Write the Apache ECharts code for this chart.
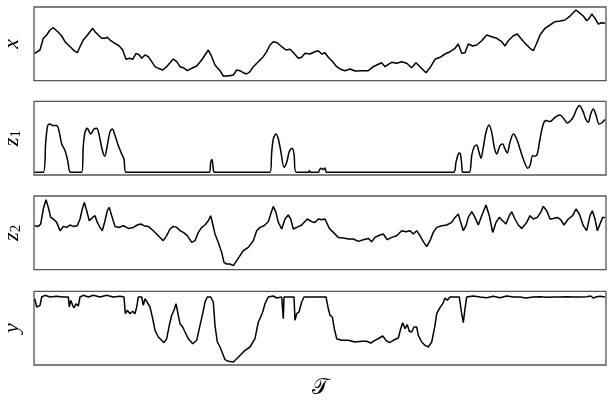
<!DOCTYPE html>
<html>
<head>
<meta charset="utf-8">
<script src="https://cdn.jsdelivr.net/npm/echarts@6/dist/echarts.min.js"></script>
<style>
  html, body { margin: 0; padding: 0; background: #fff; }
  #chart { width: 613px; height: 401px; }
</style>
</head>
<body>
<div id="chart"></div>
<script>
// 每条曲线都是 [t, 值]，t 为时间位置，值为面板内的高度
var xSeries = [
  [0.7, 27.4], [2.7, 26.7], [6, 30.7], [9.3, 42.4], [12.7, 45.7], [16, 50.7], [19.3, 53], [21, 52.4],
  [24.3, 48.4], [27.7, 44.7], [31, 39], [34.3, 35.7], [37.7, 32.4], [40, 30], [43.3, 28], [46, 34],
  [49.3, 40.7], [52.7, 44.7], [56, 49], [58.7, 52.4], [61, 49], [64.3, 45.7], [67.7, 42.4], [71, 42.4],
  [73.3, 43.4], [76.7, 40], [81, 37.4], [85.3, 34.7], [88.7, 30.7], [92, 21.4], [95.3, 22.4], [98.7, 21.4],
  [102, 27.4], [105.3, 25.7], [107.7, 22.4], [111, 25.7], [114.3, 24], [117.7, 19], [121, 14], [124.3, 12.4],
  [128.7, 10.7], [132.7, 14], [136, 18], [139.3, 21.7], [142.7, 19], [146, 14], [149.3, 13], [153.3, 10],
  [157.7, 12.4], [162.7, 14.7], [167.7, 20.7], [171, 25.7], [174.3, 30.7], [177.7, 24], [181, 15.7], [186, 10],
  [189.3, 4.7], [194.3, 4.7], [199.3, 5.7], [202.7, 10.7], [206, 10], [209.3, 8], [212.7, 6.7], [216, 9],
  [219.3, 14], [224.3, 19], [229.3, 24], [232.7, 29], [236, 35.7], [239.3, 39], [243.3, 38], [247.7, 34],
  [252, 30.7], [256, 31.4], [260, 27.4], [264.3, 22.4], [267.7, 23.4], [271, 27.4], [276, 26.7], [281, 29],
  [284.3, 30], [287.7, 26.7], [291, 28], [294.3, 23.4], [298.7, 19], [302.7, 14], [306.7, 11.4], [311, 10],
  [316, 11.7], [321, 9.7], [327.7, 10], [334.3, 10], [339.3, 14], [344.3, 16.4], [347.7, 18], [351, 14],
  [354.3, 16.4], [357.7, 18.4], [362.7, 17.4], [367.7, 19], [372.7, 17.4], [377.7, 13], [382, 18], [386, 14],
  [392, 8], [396.7, 14], [401, 21.4], [406, 23.4], [411, 26.7], [416, 29], [421, 32.4], [424.3, 36.7],
  [427.7, 27.4], [431, 28], [434.3, 36.7], [438.7, 34.7], [442.7, 35.7], [447.7, 40], [452.7, 45.7], [457.7, 44],
  [462.7, 42.4], [467.7, 39], [471, 34.7], [474.3, 40], [479.3, 45], [483.3, 46.7], [486.7, 42.4], [491, 37.4],
  [496, 32.4], [499.3, 30], [502.7, 37.4], [506, 45.7], [511, 52.4], [516, 55.7], [521, 59], [526, 59.7],
  [531, 60.7], [535.3, 64], [538.7, 67.4], [542, 70.7], [546, 67.4], [549.3, 64.7], [552.7, 60], [555.3, 62.4],
  [557.7, 66.7], [561, 62.4], [564.3, 56.7], [567.7, 58], [571, 57.4]
];

var z1Series = [
  [0.7, 2.7], [9.3, 2.7], [11.7, 32.7], [13.7, 49.4], [16, 51], [18.7, 49.4], [22.7, 49.4], [25.3, 42.7],
  [27.7, 31], [31, 24.4], [33.7, 14.4], [36.7, 2.7], [47.7, 2.7], [49.3, 29.4], [51, 42.7], [53.3, 46.7],
  [56.7, 41], [60, 46], [62.7, 46.7], [65.3, 39.4], [68, 26], [70.7, 18.7], [73.3, 29.4], [76, 43.4],
  [78.3, 46], [81, 39.4], [84.3, 29.4], [87.7, 21], [90, 16], [92, 2.7], [175.3, 2.7], [176.7, 12.7],
  [178, 15.4], [179.3, 6], [180, 2.7], [236, 2.7], [237.7, 22.7], [239.3, 36], [242, 41], [244.3, 36],
  [247, 22.7], [250, 7.7], [252.7, 12.7], [255.3, 23.4], [258, 26.7], [260, 21], [262, 2.7], [274.3, 2.7],
  [275.3, 4.2], [276.7, 2.7], [284.3, 2.7], [286, 6], [287.7, 6.7], [289.3, 5.4], [291, 7], [292.7, 2.7],
  [419.3, 2.7], [422, 12.7], [424.3, 21], [426, 22], [427.7, 11], [428.7, 2.7], [435.3, 2.7], [437.7, 19.4],
  [440, 27.7], [442.7, 30], [445, 22.7], [447, 16.7], [449.3, 27.7], [452, 42.7], [455, 50], [457.7, 42.7],
  [460.3, 27.7], [462.7, 21], [466, 29.4], [468.7, 31], [471, 26], [473.3, 22], [476, 32.7], [479.3, 41],
  [482.7, 36], [486, 26], [489.3, 16], [493.7, 6.7], [496, 9.4], [498.7, 19.4], [501, 18.7], [503.3, 21],
  [506, 36], [509.3, 51], [512, 54.4], [516, 53.4], [521, 57.7], [526, 60], [530, 56], [533.3, 52],
  [536.7, 54.4], [540, 59.4], [542.7, 66], [545.3, 69.4], [548.7, 64.4], [552, 55.4], [554.3, 52.7], [556.7, 61],
  [559.3, 66], [562, 60], [565, 51], [567.7, 52], [571, 55.4]
];

var z2Series = [
  [0.7, 44], [4.3, 43.3], [6.7, 45.7], [9.3, 60.7], [12, 70], [14.3, 62.3], [16.7, 52.3], [19.3, 50.7],
  [22.7, 47.3], [26, 39], [29.3, 43.3], [32.7, 42.3], [36, 44.7], [39.3, 43.3], [43.3, 44], [46, 50.7],
  [48.3, 60.7], [50.3, 67.3], [52.7, 59], [55.3, 49], [58.7, 52.3], [61, 54], [63.3, 47.3], [66, 42.3],
  [68.3, 39], [71, 49], [73.3, 59], [75.3, 62.3], [77.7, 54], [81, 43.3], [85.3, 42.3], [89.3, 44],
  [94.3, 41.3], [99.3, 42.3], [103.3, 44.7], [106.7, 45.7], [110, 44], [114.3, 43.3], [119.3, 39], [124.3, 34],
  [129.3, 29], [132.7, 34], [136, 40.7], [139.3, 43.3], [142.7, 42.3], [146, 39], [149.3, 37.3], [153.3, 34],
  [157.7, 27.3], [161, 29], [164.3, 37.3], [167.7, 42.3], [171, 44.7], [174.3, 49], [176.7, 54], [178.7, 45.7],
  [181, 35.7], [184.3, 27.3], [187.7, 17.3], [190, 7.3], [192.7, 5.7], [196, 5.7], [199.3, 4], [202.7, 9],
  [206, 14], [209.3, 19], [214.3, 22.3], [219.3, 29], [222.7, 39], [226, 42.3], [230, 44], [234.3, 48],
  [236.7, 55.7], [239.3, 63.3], [242, 57.3], [244.3, 47.3], [247.7, 40.7], [251, 50.7], [254.3, 54.7], [256.7, 50.7],
  [259.3, 40.7], [262.7, 42.3], [267.7, 44.7], [269.3, 46.7], [273.3, 50.7], [277.7, 48], [281, 47.3], [284.3, 50.7],
  [287.7, 50], [291, 50.7], [295.3, 41.3], [299.3, 37.3], [304.3, 32.3], [309.3, 31.7], [314.3, 30.7], [319.3, 30.7],
  [324.3, 28.3], [329.3, 30], [334.3, 31.3], [337.7, 28], [341, 32.3], [346, 34.7], [349.3, 35.7], [353.3, 30],
  [357.7, 32.3], [362.7, 34], [367.7, 39], [372, 38], [376, 39], [379.3, 35.7], [382.7, 39], [386, 34],
  [389.3, 28], [392.7, 23], [396, 29], [399.3, 37.3], [402.7, 42.3], [407.7, 44], [412.7, 44.7], [417.7, 47.3],
  [421, 52.3], [424.3, 55.7], [426.7, 47.3], [429.3, 39], [432, 44], [434.3, 52.3], [437.7, 58], [441, 52.3],
  [444.3, 44.7], [447.7, 54], [452, 64.7], [455.3, 54], [458.7, 37.3], [462, 47.3], [465.3, 52.3], [468.7, 49],
  [472, 45.7], [475.3, 54], [477.7, 58], [481, 50.7], [484.3, 44.7], [487.7, 41.3], [492.7, 47.3], [496, 54],
  [499.3, 50.7], [503.3, 52.3], [506.7, 57.3], [509.3, 63.3], [512.7, 59], [516, 50.7], [519.3, 51.3], [523.3, 52.3],
  [526.7, 50], [530, 44.7], [534.3, 50.7], [538.7, 54], [542, 60.7], [545.3, 55.7], [549.3, 44], [552.7, 39],
  [556, 54], [558.3, 59], [561, 50.7], [563.3, 39], [566, 45.7], [568.7, 52.3], [571, 52.3]
];

var ySeries = [
  [0.7, 66.3], [2.7, 58], [4.3, 56.3], [6, 59.7], [7.7, 68], [11, 69.7], [16, 68], [22.7, 68.7],
  [29.3, 68], [34.3, 68], [35.3, 58], [36.7, 64.7], [38.7, 59.7], [40, 57], [42, 61.3], [44.3, 59],
  [46, 68], [49.3, 69.7], [54.3, 68], [59.3, 69.7], [66, 68], [72.7, 69.7], [79.3, 68], [86, 68.7],
  [90, 68], [91.3, 51.3], [93.3, 54.7], [96, 51.3], [98.7, 53.7], [101, 51.3], [102.7, 58], [104.3, 68],
  [107.7, 68], [109.3, 59.7], [111, 66.3], [112.7, 68], [116, 58], [118.7, 46.3], [121, 34.7], [124.3, 28],
  [127.7, 24.7], [130, 22.3], [132.7, 26.3], [135.3, 39.7], [137.7, 49.7], [140, 54.7], [142, 61.3], [144.3, 49.7],
  [146, 41.3], [148.7, 38], [151, 33], [154.3, 26.3], [158.7, 21.3], [162.7, 24.7], [166, 39.7], [168.7, 51.3],
  [171, 63], [173.3, 68], [176.7, 68], [179.3, 63], [181, 39.7], [183.3, 23], [186, 18], [188.7, 11.3],
  [191, 5.3], [194.3, 3.7], [199.3, 3], [202.7, 6.3], [206.7, 10.3], [211, 14.7], [216, 18], [221, 26.3],
  [224.3, 43], [226, 46.3], [228.7, 53], [231, 61.3], [234.3, 68], [239.3, 69], [242.7, 67], [247.7, 68],
  [249, 68], [249.3, 46.3], [250, 68], [256, 68], [260, 68], [261, 44.7], [262.7, 51.3], [265, 53],
  [267.7, 63], [270, 68], [277.7, 68], [279.3, 68.7], [286, 68], [292, 68], [294.3, 56.3], [296, 49.7],
  [298.3, 48], [300.3, 36.3], [302.7, 26.3], [307.7, 24.7], [314.3, 24.7], [321, 23], [327.7, 23.7], [332.7, 23.7],
  [336.7, 22], [341, 24.7], [345.3, 27], [348.7, 29], [352, 24.7], [355.3, 22.3], [359.3, 24.7], [364.3, 27],
  [366.7, 36.3], [368.7, 42.3], [371, 36.3], [373.3, 40.3], [375.3, 33.7], [377.7, 33], [380, 38], [382.7, 38],
  [384.3, 29.7], [387.7, 23], [391, 19.7], [394.3, 18], [397.7, 23], [401, 39.7], [402.7, 51.3], [405.3, 56.3],
  [408.7, 61.3], [411, 67], [413.3, 64.7], [416, 68], [421, 68], [425.3, 68], [427.7, 51.3], [429.3, 42.3],
  [431, 56.3], [432.7, 68], [439.3, 69], [446, 68], [452.7, 67.3], [459.3, 68.7], [466, 67.3], [472.7, 69],
  [479.3, 68], [486, 68], [492, 67], [499.3, 68], [506, 68.3], [512.7, 67.7], [519.3, 68], [526, 68],
  [532.7, 68.3], [539.3, 68], [546, 68], [552.7, 68.3], [556.7, 69], [559.3, 67], [562, 68], [566, 68.7],
  [571, 68]
];

var panelNames = ['{i|x}', '{i|z}{s|1}', '{i|z}{s|2}', '{i|y}'];
var panelData = [xSeries, z1Series, z2Series, ySeries];
var panelSmooth = [false, 0.3, false, false];

var tMax = 572;
var vMax = 73.7;
var tops = [7, 101.3, 196, 291.3];

var grids = [], xAxes = [], yAxes = [], series = [];
for (var i = 0; i < 4; i++) {
    grids.push({
        left: 34, width: 572, top: tops[i], height: 73.7,
        outerBoundsMode: 'none', containLabel: false,
        show: true, borderColor: '#555', borderWidth: 1.3, backgroundColor: 'transparent'
    });
    xAxes.push({
        type: 'value', gridIndex: i, min: 0, max: tMax,
        axisLine: {show: false}, axisTick: {show: false}, axisLabel: {show: false}, splitLine: {show: false},
        name: i == 3 ? '𝒯' : '',
        nameLocation: 'middle', nameGap: 12,
        nameTextStyle: {fontFamily: 'DejaVu Serif', fontSize: 22, color: '#000'}
    });
    yAxes.push({
        type: 'value', gridIndex: i, min: 0, max: vMax,
        axisLine: {show: false}, axisTick: {show: false}, axisLabel: {show: false}, splitLine: {show: false},
        name: panelNames[i],
        nameLocation: 'middle', nameRotate: 90, nameGap: 10,
        nameTextStyle: {
            color: '#000',
            rich: {
                i: {fontFamily: 'Liberation Serif', fontStyle: 'italic', fontSize: 22, color: '#000', lineHeight: 24},
                s: {fontFamily: 'Liberation Serif', fontSize: 15, color: '#000', lineHeight: 24, verticalAlign: 'bottom', padding: [8, 0, 0, 0]}
            }
        }
    });
    series.push({
        type: 'line', xAxisIndex: i, yAxisIndex: i,
        data: panelData[i], showSymbol: false, symbol: 'none',
        smooth: panelSmooth[i],
        lineStyle: {color: '#000', width: 1.5},
        animation: false
    });
}

echarts.init(document.getElementById('chart')).setOption({
    backgroundColor: '#fff',
    animation: false,
    grid: grids,
    xAxis: xAxes,
    yAxis: yAxes,
    series: series
});
</script>
</body>
</html>
